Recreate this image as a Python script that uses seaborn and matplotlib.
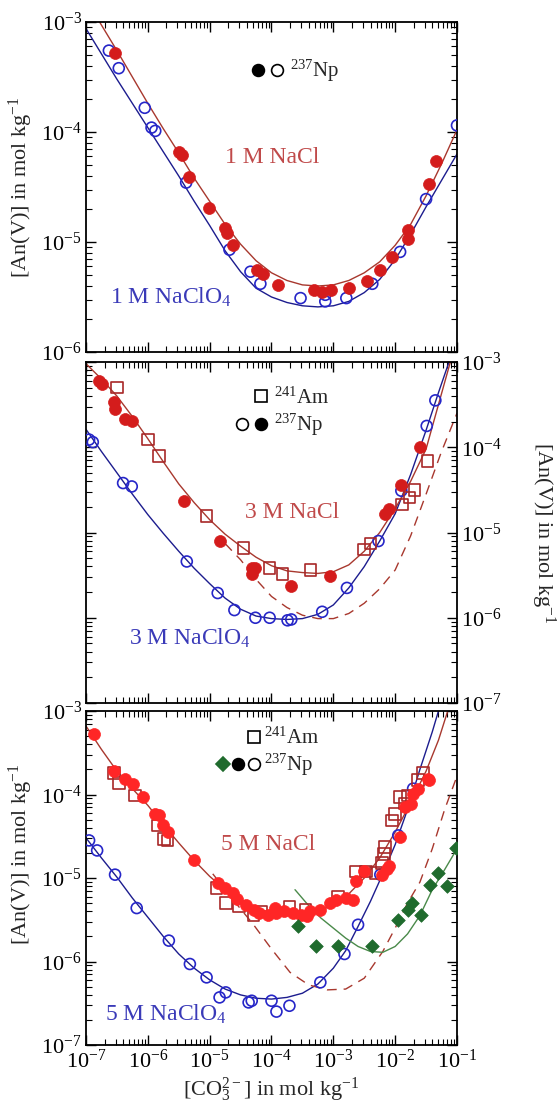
import numpy as np
import matplotlib
matplotlib.use('Agg')
import matplotlib.pyplot as plt
import matplotlib.ticker as mticker
from matplotlib.lines import Line2D
from matplotlib.legend_handler import HandlerTuple
import seaborn as sns

sns.set_theme(style='ticks')
plt.rcParams['font.family'] = ['Liberation Serif', 'DejaVu Serif']
plt.rcParams['mathtext.fontset'] = 'custom'
plt.rcParams['mathtext.rm'] = 'Liberation Serif'
plt.rcParams['mathtext.it'] = 'Liberation Serif:italic'
plt.rcParams['mathtext.bf'] = 'Liberation Serif:bold'

# ---- data, all as log10 values ----
# 1 M panel
np1_nacl_x = [-6.53, -5.50, -5.44, -5.33, -5.01, -4.76, -4.72, -4.63, -4.24, -4.13, -3.89,
              -3.32, -3.18, -3.03, -2.74, -2.45, -2.24, -2.05, -1.79, -1.79, -1.45, -1.34]
np1_nacl_y = [-3.28, -4.18, -4.21, -4.41, -4.69, -4.87, -4.92, -5.03, -5.25, -5.29, -5.39,
              -5.44, -5.45, -5.44, -5.42, -5.35, -5.25, -5.14, -4.89, -4.97, -4.47, -4.26]
np1_clo4_x = [-6.63, -6.47, -6.05, -5.94, -5.88, -5.38, -4.68, -4.34, -4.18, -3.53, -3.13,
              -3.13, -2.79, -2.37, -1.92, -1.50, -1.00]
np1_clo4_y = [-3.26, -3.42, -3.78, -3.96, -3.99, -4.46, -5.07, -5.27, -5.38, -5.51, -5.54,
              -5.48, -5.51, -5.38, -5.09, -4.61, -3.94]
fit1_nacl_x = [-6.78, -6.5, -6.25, -6.0, -5.75, -5.5, -5.25, -5.0, -4.75, -4.5, -4.25, -4.0,
               -3.75, -3.5, -3.25, -3.0, -2.75, -2.5, -2.25, -2.0, -1.75, -1.5, -1.25, -1.0]
fit1_nacl_y = [-3.0, -3.26, -3.50, -3.74, -3.97, -4.19, -4.42, -4.63, -4.84, -5.02, -5.17, -5.28,
               -5.35, -5.39, -5.40, -5.39, -5.35, -5.28, -5.18, -5.03, -4.84, -4.58, -4.29, -3.98]
fit1_clo4_x = [-7.0, -6.75, -6.5, -6.25, -6.0, -5.75, -5.5, -5.25, -5.0, -4.75, -4.5, -4.25, -4.0,
               -3.75, -3.5, -3.25, -3.0, -2.75, -2.5, -2.25, -2.0, -1.75, -1.5, -1.25, -1.0]
fit1_clo4_y = [-3.06, -3.29, -3.52, -3.74, -3.96, -4.18, -4.40, -4.63, -4.85, -5.08, -5.27, -5.42,
               -5.50, -5.55, -5.58, -5.59, -5.58, -5.54, -5.46, -5.34, -5.16, -4.93, -4.68, -4.44, -4.20]

# 3 M panel
np3_nacl_x = [-6.79, -6.74, -6.55, -6.53, -6.37, -6.26, -5.42, -4.84, -4.32, -4.32, -4.26,
              -3.68, -3.05, -2.16, -2.10, -1.90, -1.60]
np3_nacl_y = [-3.22, -3.26, -3.47, -3.55, -3.67, -3.69, -4.63, -5.10, -5.42, -5.49, -5.42,
              -5.63, -5.51, -4.78, -4.72, -4.44, -4.00]
am3_nacl_x = [-6.50, -6.00, -5.82, -5.05, -4.45, -4.03, -3.82, -3.37, -2.50, -2.40, -1.89,
              -1.77, -1.69, -1.48]
am3_nacl_y = [-3.30, -3.91, -4.10, -4.81, -5.18, -5.42, -5.49, -5.44, -5.20, -5.13, -4.67,
              -4.59, -4.50, -4.16]
np3_clo4_x = [-6.95, -6.89, -6.40, -6.26, -5.37, -4.87, -4.60, -4.26, -4.03, -3.74, -3.68,
              -3.18, -2.78, -2.27, -1.90, -1.49, -1.35]
np3_clo4_y = [-3.91, -3.94, -4.42, -4.46, -5.34, -5.71, -5.91, -6.00, -6.00, -6.03, -6.02,
              -5.93, -5.65, -5.10, -4.51, -3.75, -3.45]
fit3_nacl_x = [-7.0, -6.75, -6.5, -6.25, -6.0, -5.75, -5.5, -5.25, -5.0, -4.75, -4.5, -4.25, -4.0,
               -3.75, -3.5, -3.25, -3.0, -2.75, -2.5, -2.25, -2.0, -1.75, -1.5, -1.35, -1.2, -1.1]
fit3_nacl_y = [-3.02, -3.20, -3.40, -3.64, -3.90, -4.17, -4.43, -4.65, -4.85, -5.02, -5.16, -5.29,
               -5.39, -5.45, -5.47, -5.48, -5.46, -5.38, -5.22, -5.00, -4.72, -4.40, -4.02, -3.63,
               -3.24, -2.98]
fit3_clo4_x = [-7.0, -6.75, -6.5, -6.25, -6.0, -5.75, -5.5, -5.25, -5.0, -4.75, -4.5, -4.25, -4.0,
               -3.75, -3.5, -3.25, -3.0, -2.75, -2.5, -2.25, -2.0, -1.75, -1.5, -1.3, -1.12]
fit3_clo4_y = [-3.79, -4.05, -4.30, -4.55, -4.79, -5.01, -5.22, -5.42, -5.60, -5.77, -5.90, -5.98,
               -6.01, -6.02, -6.01, -5.96, -5.85, -5.65, -5.40, -5.10, -4.78, -4.32, -3.80, -3.36,
               -2.98]
sit3_x = [-4.75, -4.5, -4.25, -4.0, -3.75, -3.5, -3.25, -3.0, -2.75, -2.5, -2.25, -2.0, -1.75,
          -1.5, -1.25, -1.0]
sit3_y = [-5.13, -5.32, -5.55, -5.75, -5.88, -5.97, -6.01, -6.01, -5.95, -5.83, -5.66, -5.44,
          -5.04, -4.55, -4.05, -3.60]

# 5 M panel
np5_nacl_x = [-6.87, -6.55, -6.37, -6.24, -6.08, -5.89, -5.82, -5.76, -5.68, -5.26, -4.87, -4.76,
              -4.63, -4.55, -4.42, -4.29, -4.21, -4.05, -3.92, -3.95, -3.79, -3.65, -3.53, -3.42,
              -3.37, -3.21, -3.05, -2.95, -2.79, -2.68, -2.63, -2.50, -2.21, -2.14, -2.10, -1.92,
              -1.84, -1.74, -1.71, -1.63, -1.47, -1.45]
np5_nacl_y = [-3.27, -3.72, -3.82, -3.87, -4.03, -4.23, -4.25, -4.37, -4.45, -4.78, -5.06, -5.12,
              -5.18, -5.25, -5.32, -5.38, -5.42, -5.44, -5.42, -5.36, -5.40, -5.42, -5.44, -5.46,
              -5.40, -5.38, -5.30, -5.26, -5.24, -5.26, -5.04, -4.92, -4.96, -4.89, -4.86, -4.51,
              -4.15, -4.11, -3.99, -3.93, -3.82, -3.83]
am5_nacl_x = [-6.55, -6.47, -6.21, -5.84, -5.74, -5.68, -4.89, -4.74, -4.53, -4.29, -4.16, -3.71,
              -3.45, -2.92, -2.63, -2.47, -2.31, -2.21, -2.18, -2.16, -2.05, -2.00, -1.92, -1.84,
              -1.79, -1.63, -1.55]
am5_nacl_y = [-3.74, -3.86, -4.01, -4.37, -4.53, -4.55, -5.12, -5.30, -5.34, -5.44, -5.40, -5.34,
              -5.38, -5.22, -4.92, -4.92, -4.94, -4.82, -4.71, -4.63, -4.31, -4.23, -4.03, -4.11,
              -4.01, -3.83, -3.74]
np5_clo4_x = [-6.95, -6.82, -6.53, -6.18, -5.66, -5.32, -5.05, -4.84, -4.74, -4.37, -4.32, -4.00,
              -3.92, -3.71, -3.21, -2.82, -2.60, -2.24, -1.95, -1.71]
np5_clo4_y = [-4.55, -4.67, -4.96, -5.36, -5.75, -6.03, -6.19, -6.43, -6.37, -6.49, -6.47, -6.47,
              -6.60, -6.53, -6.25, -5.91, -5.56, -4.96, -4.49, -3.93]
np5_green_x = [-3.57, -3.28, -2.93, -2.37, -1.95, -1.80, -1.72, -1.58, -1.43, -1.30, -1.16, -1.02]
np5_green_y = [-5.58, -5.81, -5.82, -5.82, -5.50, -5.38, -5.30, -5.44, -5.08, -4.94, -5.10, -4.64]
fit5_nacl_x = [-7.0, -6.75, -6.5, -6.25, -6.0, -5.75, -5.5, -5.25, -5.0, -4.75, -4.5, -4.25, -4.0,
               -3.75, -3.5, -3.25, -3.0, -2.75, -2.5, -2.25, -2.0, -1.75, -1.5, -1.3, -1.15]
fit5_nacl_y = [-3.18, -3.46, -3.72, -3.93, -4.13, -4.36, -4.58, -4.79, -4.98, -5.14, -5.27, -5.36,
               -5.42, -5.45, -5.44, -5.40, -5.32, -5.19, -5.00, -4.76, -4.45, -4.10, -3.72, -3.35,
               -3.0]
fit5_clo4_x = [-7.0, -6.75, -6.5, -6.25, -6.0, -5.75, -5.5, -5.25, -5.0, -4.75, -4.5, -4.25, -4.0,
               -3.75, -3.5, -3.25, -3.0, -2.8, -2.6, -2.4, -2.2, -2.0, -1.8, -1.6, -1.4, -1.3]
fit5_clo4_y = [-4.52, -4.76, -4.99, -5.24, -5.47, -5.70, -5.91, -6.08, -6.22, -6.33, -6.40, -6.44,
               -6.45, -6.43, -6.38, -6.27, -6.08, -5.87, -5.58, -5.28, -4.95, -4.60, -4.18, -3.70,
               -3.25, -3.0]
fit5_green_x = [-3.62, -3.4, -3.2, -3.0, -2.8, -2.6, -2.4, -2.2, -2.0, -1.8, -1.6, -1.4, -1.2, -1.0]
fit5_green_y = [-5.14, -5.33, -5.48, -5.60, -5.72, -5.82, -5.88, -5.89, -5.82, -5.67, -5.45, -5.14,
                -4.90, -4.65]
sit5_x = [-4.95, -4.6, -4.3, -4.0, -3.7, -3.4, -3.1, -2.8, -2.5, -2.2, -2.0, -1.8, -1.6, -1.4,
          -1.2, -1.0]
sit5_y = [-4.95, -5.28, -5.55, -5.85, -6.13, -6.28, -6.34, -6.33, -6.20, -5.88, -5.60, -5.30,
          -5.05, -4.65, -4.18, -3.78]

# ---- colours ----
RED_FILL = '#d41c1c'
RED_FILL5 = '#ff2626'
RED_SQ = '#a82828'
RED_LINE = '#a8382e'
BLUE = '#2626c8'
BLUE_LINE = '#1c1c8e'
GREEN = '#1f6b2d'
GREEN_LINE = '#4a8a4a'
TXT_RED = '#c04a4a'
TXT_BLUE = '#3a3ab8'


def curve(ax, lx, ly, color, ls='-'):
    sns.lineplot(x=10 ** np.array(lx), y=10 ** np.array(ly), ax=ax, color=color,
                 lw=1.0, linestyle=ls, sort=False, estimator=None, zorder=2)


def filled(ax, lx, ly, color, marker='o', s=74):
    sns.scatterplot(x=10 ** np.array(lx), y=10 ** np.array(ly), ax=ax, marker=marker,
                    s=s, color=color, edgecolor=color, linewidth=0.5, zorder=3)


def hollow(ax, lx, ly, color, marker='o', s=62):
    sns.scatterplot(x=10 ** np.array(lx), y=10 ** np.array(ly), ax=ax, marker=marker,
                    s=s, facecolor='none', edgecolor=color, linewidth=1.2, zorder=3)


def style_axis(ax, ylo, labels_right=False, show_x=False):
    ax.set_xscale('log')
    ax.set_yscale('log')
    ax.set_xlim(1e-7, 1e-1)
    ax.set_ylim(ylo, 1e-3)
    for sp in ax.spines.values():
        sp.set_linewidth(1.3)
        sp.set_color('black')
    ax.xaxis.set_major_locator(mticker.LogLocator(base=10, numticks=12))
    ax.xaxis.set_minor_locator(mticker.LogLocator(base=10, subs=np.arange(2, 10), numticks=12))
    ax.yaxis.set_major_locator(mticker.LogLocator(base=10, numticks=12))
    ax.yaxis.set_minor_locator(mticker.LogLocator(base=10, subs=np.arange(2, 10), numticks=12))
    ax.xaxis.set_minor_formatter(mticker.NullFormatter())
    ax.yaxis.set_minor_formatter(mticker.NullFormatter())
    ax.tick_params(which='both', direction='in', top=True, right=True, bottom=True, left=True,
                   colors='black', labelsize=16, pad=3)
    ax.tick_params(which='major', length=7, width=1.0)
    ax.tick_params(which='minor', length=4, width=0.8)
    ax.tick_params(axis='x', labelbottom=show_x)
    ax.tick_params(axis='y', labelleft=not labels_right, labelright=labels_right)
    ax.set_xlabel('')
    ax.set_ylabel('')


def key(ax, rows, x0, y0, hl):
    handles = [h for h, _ in rows]
    labels = [l for _, l in rows]
    ax.legend(handles, labels, handler_map={tuple: HandlerTuple(ndivide=None, pad=0)},
              loc='upper left', bbox_to_anchor=(x0, y0), frameon=False,
              handlelength=hl, handletextpad=0.15, labelspacing=0.15,
              borderpad=0, borderaxespad=0, prop={'size': 15})


def mk(marker, fc, ec, ms=8.5):
    return Line2D([], [], ls='none', marker=marker, ms=ms, mfc=fc, mec=ec, mew=1.2)


blank = Line2D([], [], ls='none', marker='')

fig = plt.figure(figsize=(5.59, 11.08), dpi=100)
L, W = 86 / 559, 371 / 559
ax_top = fig.add_axes([L, 1 - 352 / 1108, W, 330 / 1108])
ax_mid = fig.add_axes([L, 1 - 703 / 1108, W, 341 / 1108])
ax_bot = fig.add_axes([L, 1 - 1045 / 1108, W, 334 / 1108])

# ---- 1 M ----
ax = ax_top
curve(ax, fit1_clo4_x, fit1_clo4_y, BLUE_LINE)
curve(ax, fit1_nacl_x, fit1_nacl_y, RED_LINE)
hollow(ax, np1_clo4_x, np1_clo4_y, BLUE)
filled(ax, np1_nacl_x, np1_nacl_y, RED_FILL)
style_axis(ax, 1e-6)
ax.text(0.501, 0.59, '1 M NaCl', transform=ax.transAxes, ha='center', va='center',
        color=TXT_RED, fontsize=17)
ax.text(0.229, 0.167, '1 M NaClO$_4$', transform=ax.transAxes, ha='center', va='center',
        color=TXT_BLUE, fontsize=17)
key(ax, [((mk('o', 'black', 'black'), mk('o', 'none', 'black')), '$^{237}$Np')],
    0.438, 0.89, 1.85)
ax.set_ylabel('[An(V)] in mol kg$^{-1}$', fontsize=16)
ax.yaxis.set_label_coords(-0.137, 0.5)

# ---- 3 M ----
ax = ax_mid
curve(ax, fit3_clo4_x, fit3_clo4_y, BLUE_LINE)
curve(ax, fit3_nacl_x, fit3_nacl_y, RED_LINE)
curve(ax, sit3_x, sit3_y, RED_LINE, ls=(0, (7, 5)))
hollow(ax, np3_clo4_x, np3_clo4_y, BLUE)
hollow(ax, am3_nacl_x, am3_nacl_y, RED_SQ, marker='s', s=70)
filled(ax, np3_nacl_x, np3_nacl_y, RED_FILL)
style_axis(ax, 1e-7, labels_right=True)
ax.text(0.555, 0.56, '3 M NaCl', transform=ax.transAxes, ha='center', va='center',
        color=TXT_RED, fontsize=17)
ax.text(0.28, 0.19, '3 M NaClO$_4$', transform=ax.transAxes, ha='center', va='center',
        color=TXT_BLUE, fontsize=17)
key(ax, [((blank, mk('s', 'none', 'black')), '$^{241}$Am'),
         ((mk('o', 'none', 'black'), mk('o', 'black', 'black')), '$^{237}$Np')],
    0.395, 0.925, 1.85)
ax.yaxis.set_label_position('right')
ax.set_ylabel('[An(V)] in mol kg$^{-1}$', fontsize=16, rotation=270)
ax.yaxis.set_label_coords(1.27, 0.5)

# ---- 5 M ----
ax = ax_bot
curve(ax, fit5_clo4_x, fit5_clo4_y, BLUE_LINE)
curve(ax, fit5_nacl_x, fit5_nacl_y, RED_LINE)
curve(ax, sit5_x, sit5_y, RED_LINE, ls=(0, (7, 5)))
curve(ax, fit5_green_x, fit5_green_y, GREEN_LINE)
hollow(ax, np5_clo4_x, np5_clo4_y, BLUE)
hollow(ax, am5_nacl_x, am5_nacl_y, RED_SQ, marker='s', s=70)
filled(ax, np5_nacl_x, np5_nacl_y, RED_FILL5)
filled(ax, np5_green_x, np5_green_y, GREEN, marker='D', s=48)
style_axis(ax, 1e-7, show_x=True)
ax.text(0.49, 0.60, '5 M NaCl', transform=ax.transAxes, ha='center', va='center',
        color=TXT_RED, fontsize=17)
ax.text(0.216, 0.092, '5 M NaClO$_4$', transform=ax.transAxes, ha='center', va='center',
        color=TXT_BLUE, fontsize=17)
key(ax, [((blank, blank, mk('s', 'none', 'black')), '$^{241}$Am'),
         ((mk('D', GREEN, GREEN, ms=7.5), mk('o', 'black', 'black'), mk('o', 'none', 'black')),
          '$^{237}$Np')], 0.349, 0.95, 2.2)
ax.set_ylabel('[An(V)] in mol kg$^{-1}$', fontsize=16)
ax.yaxis.set_label_coords(-0.137, 0.57)
ax.set_xlabel('[CO$_3^{2-}$] in mol kg$^{-1}$', fontsize=16)
ax.xaxis.set_label_coords(0.5, -0.09)

fig.savefig('out.png', dpi=100)
